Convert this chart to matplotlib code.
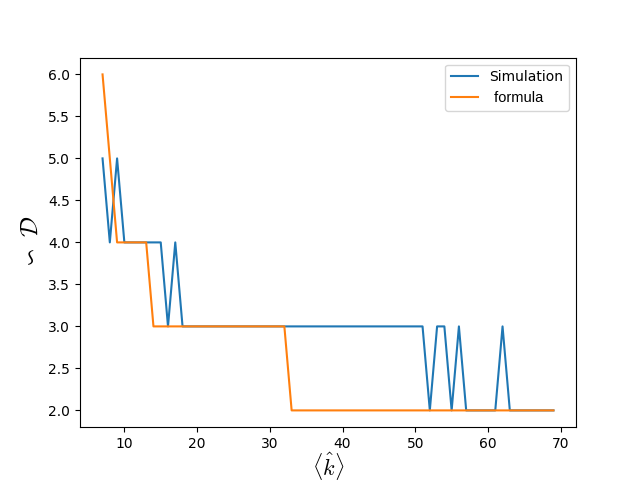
import matplotlib
matplotlib.use("Agg")
import matplotlib.pyplot as plt

plt.rcParams["mathtext.fontset"] = "cm"

k = list(range(7, 70))
sim_vals = ([5, 4, 5, 4, 4, 4, 4, 4, 4, 3, 4] + [3] * 34 + [2, 3, 3, 2, 3]
            + [2] * 5 + [3] + [2] * 7)
formula_vals = [6, 5, 4, 4, 4, 4, 4] + [3] * 19 + [2] * 37

fig, ax = plt.subplots(figsize=(6.4, 4.8), dpi=100)
ax.plot(k, sim_vals, label="Simulation")
ax.plot(k, formula_vals, label=" formula")
ax.set_xlabel(r"$\langle \hat{k} \rangle$", fontsize=16, labelpad=0)
ax.set_ylabel(r"$\backsim \ \mathcal{D}$", fontsize=18)
leg = ax.legend(loc="upper right")
leg.get_texts()[1].set_family("Liberation Sans")
leg.get_texts()[1].set_fontsize(10.5)
fig.savefig("out.png")
